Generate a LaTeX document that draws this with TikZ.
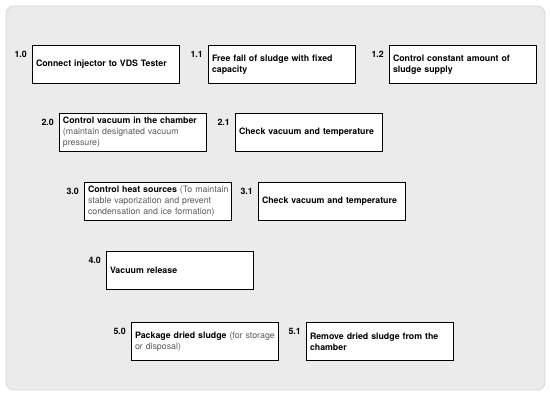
\documentclass[tikz,border=0pt]{standalone}
\usepackage{fontspec}
\setmainfont{TeX Gyre Heros}
\usepackage{xcolor}
\usetikzlibrary{positioning}
\definecolor{panelgray}{HTML}{EBEBEB}
\definecolor{panelrule}{HTML}{D6D6D6}
\definecolor{notegray}{HTML}{5A5A5A}
\newcommand{\aside}[1]{{\mdseries\color{notegray}#1}}

\begin{document}
\begin{tikzpicture}[x=1pt, y=-1pt,
  stepbox/.style={draw=black, line width=1pt, fill=white, anchor=north west,
    text width=140pt, inner xsep=3.5pt, inner ysep=2pt, minimum height=38pt,
    align=left, font=\fontsize{8.8}{11}\selectfont\bfseries},
  numlbl/.style={anchor=north east, inner sep=0pt,
    font=\fontsize{8.8}{10}\selectfont\bfseries}]
  \useasboundingbox (0,0) rectangle (550,395);
  \draw[fill=panelgray, draw=panelrule, line width=0.8pt, rounded corners=8pt]
    (6,6) rectangle (545,390);

  % row 1
  \node[stepbox] (n10) at (32,45) {Connect injector to VDS Tester};
  \node[stepbox, right=28pt of n10] (n11) {Free fall of sludge with fixed\\capacity};
  \node[stepbox, right=33pt of n11] (n12) {Control constant amount of\\sludge supply};
  % row 2
  \node[stepbox] (n20) at (59,113) {Control vacuum in the chamber\\\aside{(maintain designated vacuum}\\\aside{pressure)}};
  \node[stepbox, right=28pt of n20] (n21) {Check vacuum and temperature};
  % row 3
  \node[stepbox] (n30) at (84,182) {\mbox{Control heat sources \aside{(To maintain}}\\\aside{stable vaporization and prevent}\\\aside{condensation and ice formation)}};
  \node[stepbox, right=26pt of n30] (n31) {Check vacuum and temperature};
  % row 4
  \node[stepbox] (n40) at (106,251) {Vacuum release};
  % row 5
  \node[stepbox] (n50) at (131,322) {Package dried sludge \aside{(for storage}\\\aside{or disposal)}};
  \node[stepbox, right=27pt of n50] (n51) {Remove dried sludge from the\\chamber};

  % step numbers
  \foreach \n/\t in {n10/1.0, n11/1.1, n12/1.2, n20/2.0, n21/2.1,
                     n30/3.0, n31/3.1, n40/4.0, n50/5.0, n51/5.1}
    \node[numlbl] (l\n) at ([xshift=-5pt, yshift=-6pt]\n.north west) {\t};
\end{tikzpicture}
\end{document}
